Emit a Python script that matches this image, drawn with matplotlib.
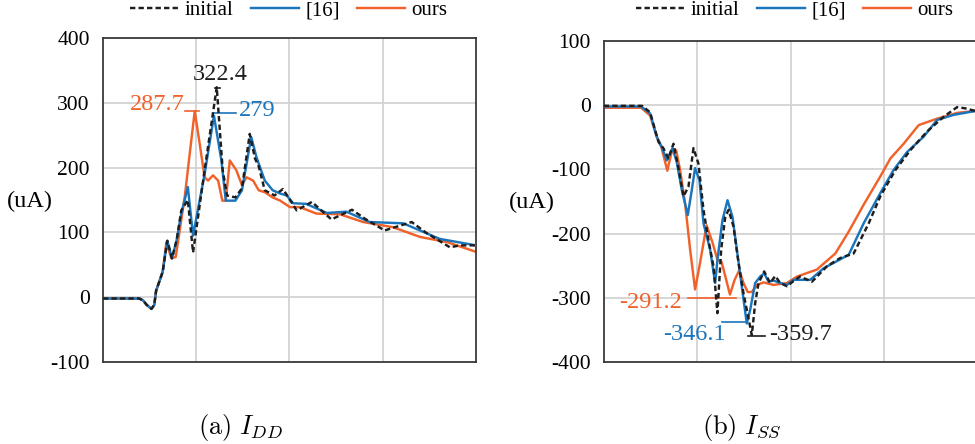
import numpy as np
import matplotlib
matplotlib.use("Agg")
import matplotlib.pyplot as plt

plt.rcParams["font.family"] = ["Liberation Serif", "DejaVu Serif"]
plt.rcParams["mathtext.fontset"] = "cm"
plt.rcParams["axes.unicode_minus"] = False

# ============================================================
# --- Data ---
# ============================================================
series_names = ["initial", "[16]", "ours"]

# (a) I_DD
idd_initial_x = [0, 0.39, 0.43, 0.47, 0.52, 0.55, 0.57, 0.64, 0.69, 0.74, 0.79, 0.84, 0.91, 0.966,
                 1.09, 1.22, 1.284, 1.33, 1.42, 1.49, 1.574, 1.63, 1.67, 1.735, 1.84, 1.93, 2.077,
                 2.24, 2.45, 2.67, 2.81, 3.02, 3.31, 3.47, 3.72, 3.83, 4.0]
idd_initial_y = [-2, -2, -5, -12, -18, -12, 10, 39, 87, 60, 88, 134, 150, 69,
                 196, 324, 196, 157, 154, 168, 252, 214, 202, 165, 157, 167, 134,
                 147, 120, 135, 121, 103, 116, 99, 77, 80, 80]

idd_ref_x = [0, 0.39, 0.43, 0.47, 0.52, 0.55, 0.57, 0.64, 0.69, 0.74, 0.79, 0.84, 0.91, 0.966,
             1.09, 1.19, 1.27, 1.317, 1.42, 1.49, 1.59, 1.646, 1.735, 1.82, 1.90, 1.97, 2.04,
             2.18, 2.40, 2.61, 2.86, 3.22, 3.61, 4.0]
idd_ref_y = [-2, -2, -5, -12, -18, -12, 10, 39, 87, 60, 88, 129, 170, 95,
             190, 280, 211, 149, 149, 165, 247, 216, 180, 165, 160, 157, 145,
             144, 130, 132, 116, 114, 90, 80]

idd_ours_x = [0, 0.39, 0.43, 0.47, 0.52, 0.55, 0.57, 0.64, 0.68, 0.733, 0.78, 0.877, 0.93, 0.984,
              1.04, 1.09, 1.127, 1.18, 1.235, 1.28, 1.317, 1.36, 1.43, 1.49, 1.54, 1.61, 1.67,
              1.735, 1.82, 1.90, 2.005, 2.11, 2.29, 2.54, 2.79, 3.11, 3.40, 3.69, 4.0]
idd_ours_y = [-2, -2, -5, -12, -18, -12, 10, 39, 85, 60, 62, 155, 221, 287,
              234, 185, 180, 188, 180, 149, 149, 211, 196, 173, 185, 180, 165,
              162, 154, 149, 139, 139, 129, 128, 116, 108, 93, 85, 70]

idd_peaks = [322.4, 279, 287.7]

# (b) I_SS
iss_initial_x = [0, 0.41, 0.496, 0.585, 0.638, 0.692, 0.746, 0.80, 0.853, 0.906, 0.96, 1.013, 1.067,
                 1.12, 1.174, 1.216, 1.256, 1.30, 1.335, 1.388, 1.442, 1.495, 1.566, 1.584, 1.62,
                 1.656, 1.716, 1.78, 1.834, 1.888, 1.959, 2.03, 2.10, 2.227, 2.387, 2.53, 2.673,
                 2.834, 2.958, 3.12, 3.28, 3.458, 3.636, 3.78, 3.868, 3.976]
iss_initial_y = [-1, -1, -11, -57, -67, -83, -60, -98, -142, -127, -67, -91, -163,
                 -210, -251, -324, -225, -174, -163, -189, -246, -293, -345, -358, -308,
                 -277, -259, -277, -266, -277, -282, -274, -267, -275, -251, -238, -231,
                 -184, -142, -101, -70, -41, -18, -3, -5, -9]

iss_ref_x = [0, 0.40, 0.496, 0.567, 0.62, 0.674, 0.735, 0.78, 0.835, 0.899, 0.942, 0.977, 1.024,
             1.067, 1.138, 1.192, 1.216, 1.27, 1.324, 1.377, 1.424, 1.47, 1.53, 1.566, 1.62,
             1.673, 1.716, 1.763, 1.816, 1.888, 1.959, 2.03, 2.209, 2.352, 2.62, 2.78, 2.958,
             3.10, 3.244, 3.422, 3.565, 3.744, 3.976]
iss_ref_y = [-2, -2, -13, -49, -65, -86, -67, -88, -132, -171, -132, -98, -117,
             -184, -225, -277, -241, -179, -148, -174, -225, -275, -340, -319, -277,
             -267, -262, -275, -273, -277, -280, -272, -272, -254, -233, -184, -137,
             -101, -73, -49, -23, -15, -9]

iss_ours_x = [0, 0.40, 0.496, 0.567, 0.62, 0.68, 0.728, 0.774, 0.817, 0.87, 0.924, 0.977, 1.03,
              1.10, 1.166, 1.216, 1.26, 1.31, 1.35, 1.40, 1.45, 1.495, 1.54, 1.584, 1.638,
              1.71, 1.816, 1.959, 2.066, 2.28, 2.477, 2.62, 2.78, 2.958, 3.066, 3.208, 3.369,
              3.565, 3.78, 3.976]
iss_ours_y = [-4, -4, -16, -49, -67, -102, -72, -70, -101, -153, -225, -287, -246,
              -187, -215, -241, -244, -272, -295, -272, -257, -277, -291, -291, -280,
              -276, -280, -277, -267, -256, -231, -197, -155, -111, -83, -60, -31,
              -21, -12, -9]

iss_peaks = [-359.7, -346.1, -291.2]

# ============================================================
# --- Styling ---
# ============================================================
c_init = "#1e1e1e"
c_ref = "#1b75bc"
c_ours = "#f0622a"
lw = 1.75
ann_fs = 17.5

fig = plt.figure(figsize=(9.75, 4.44), dpi=100)
ax1 = fig.add_axes([0.1056, 0.1847, 0.3826, 0.7297])
ax2 = fig.add_axes([0.6192, 0.1847, 0.3836, 0.7230])


def style_axis(ax, ylim, yticks):
    ax.set_xlim(0, 4)
    ax.set_ylim(*ylim)
    ax.set_xticks([1, 2, 3])
    ax.set_xticklabels([])
    ax.set_yticks(yticks)
    ax.set_yticklabels([str(t) for t in yticks])
    ax.tick_params(axis="both", length=0, labelsize=15.5, pad=9.5)
    ax.grid(True, color="#d0d0d0", linewidth=1.2)
    ax.set_axisbelow(True)
    for sp in ax.spines.values():
        sp.set_color("#3a3a3a")
        sp.set_linewidth(1.3)


def draw_lines(ax, xs, ys):
    h0, = ax.plot(xs[0], ys[0], color=c_init, linewidth=lw, linestyle=(0, (2.2, 1.3)),
                  label=series_names[0], zorder=4)
    h1, = ax.plot(xs[1], ys[1], color=c_ref, linewidth=lw, label=series_names[1], zorder=3)
    h2, = ax.plot(xs[2], ys[2], color=c_ours, linewidth=lw, label=series_names[2], zorder=2)
    return [h0, h1, h2]


# --- (a) I_DD ---
style_axis(ax1, (-100, 400), [-100, 0, 100, 200, 300, 400])
handles = draw_lines(ax1, [idd_initial_x, idd_ref_x, idd_ours_x],
                     [idd_initial_y, idd_ref_y, idd_ours_y])

ax1.plot([1.20, 1.25], [idd_peaks[0], idd_peaks[0]], color=c_init, linewidth=1.2)
ax1.text(1.26, 343, f"{idd_peaks[0]}", color=c_init, fontsize=ann_fs, ha="center", va="center")
ax1.plot([1.18, 1.43], [idd_peaks[1] + 5, idd_peaks[1] + 5], color=c_ref, linewidth=1.2)
ax1.text(1.46, 288, f"{idd_peaks[1]:g}", color=c_ref, fontsize=ann_fs, ha="left", va="center")
ax1.plot([0.877, 1.03], [idd_peaks[2], idd_peaks[2]], color=c_ours, linewidth=1.2)
ax1.text(0.88, 297, f"{idd_peaks[2]}", color=c_ours, fontsize=ann_fs, ha="right", va="center")

# --- (b) I_SS ---
style_axis(ax2, (-400, 100), [-400, -300, -200, -100, 0, 100])
draw_lines(ax2, [iss_initial_x, iss_ref_x, iss_ours_x],
           [iss_initial_y, iss_ref_y, iss_ours_y])

ax2.plot([1.54, 1.73], [-360, -360], color=c_init, linewidth=1.2)
ax2.text(1.77, -357.5, f"{iss_peaks[0]}", color=c_init, fontsize=ann_fs, ha="left", va="center")
ax2.plot([1.264, 1.514], [-338, -338], color=c_ref, linewidth=1.2)
ax2.text(1.30, -357.5, f"{iss_peaks[1]}", color=c_ref, fontsize=ann_fs, ha="right", va="center")
ax2.plot([0.90, 1.42], [-301, -301], color=c_ours, linewidth=1.2)
ax2.text(0.84, -308, f"{iss_peaks[2]}", color=c_ours, fontsize=ann_fs, ha="right", va="center")

# legends above each panel
for ax, cx in [(ax1, 289 / 975), (ax2, 795 / 975)]:
    ax.legend(handles=handles, loc="center", bbox_to_anchor=(cx, 0.976),
              bbox_transform=fig.transFigure, ncol=3, frameon=False, fontsize=15,
              handlelength=2.3, handletextpad=0.3, columnspacing=0.85, borderpad=0)

# unit labels
fig.text(30 / 975, 1 - 201 / 444, "(uA)", fontsize=17.5, ha="center", va="center")
fig.text(532 / 975, 1 - 202 / 444, "(uA)", fontsize=17.5, ha="center", va="center")

# captions
fig.text(241 / 975, 1 - 427 / 444, r"$\mathrm{(a)}\ I_{DD}$", fontsize=19, ha="center", va="center")
fig.text(742 / 975, 1 - 427 / 444, r"$\mathrm{(b)}\ I_{SS}$", fontsize=19, ha="center", va="center")

fig.savefig("out.png", dpi=100)
